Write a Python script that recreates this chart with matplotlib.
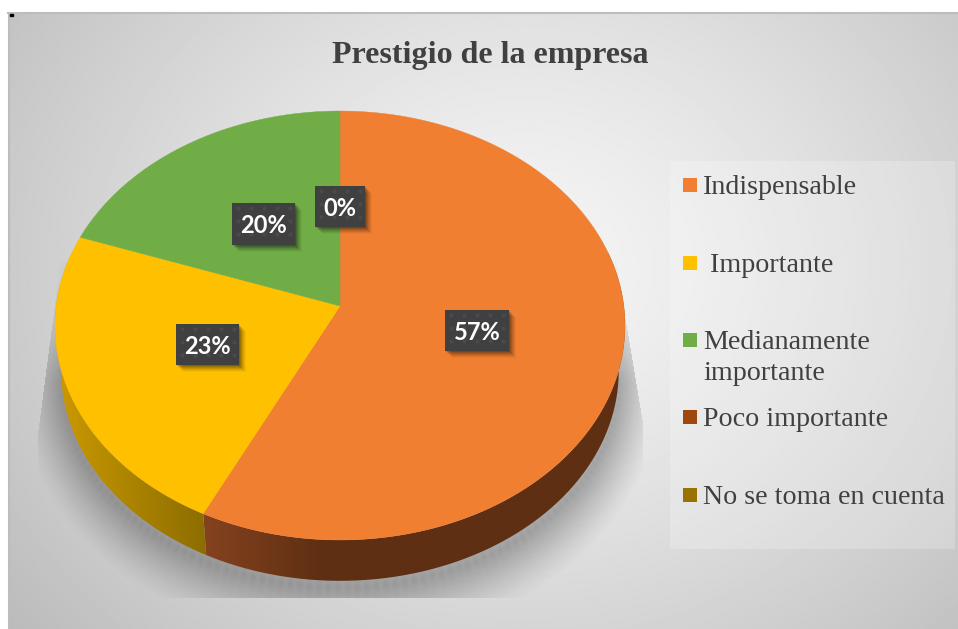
#!/usr/bin/env python3
"""Prestigio de la empresa - 3D looking pie, drawn in pixel coordinates."""

import numpy as np
import matplotlib
matplotlib.use("Agg")
import matplotlib.pyplot as plt
from matplotlib.colors import to_rgb
from matplotlib.patches import Rectangle, Polygon

W, H = 958, 629

title = "Prestigio de la empresa"
categories = ["Indispensable", " Importante", "Medianamente\nimportante",
              "Poco importante", "No se toma en cuenta"]
values = [57.3, 23.1, 19.6, 0, 0]
colors = ["#F07F31", "#FFC000", "#70AD47", "#9E480E", "#997300"]
wall_left = ["#85421F", "#CC9A00", "#5A8A38", "#7A380B", "#7A5C00"]
wall_right = ["#5E2F12", "#8C6D00", "#4A7030", "#5E2B08", "#5E4700"]

# label box left/top/width/height in pixels, one per shown label
label_values = [57.3, 23.1, 19.6, 0]
label_boxes = [(445, 310, 64, 41), (176, 324, 63, 41), (232, 203, 63, 42), (315, 186, 50, 41)]
legend_y = [185, 263, 340, 417, 495]

CX, CY = 340.0, 306.0
A, B, K = 283.8, 212.7, 0.0909
BASE_CY, BASE_S = 352.0, 0.978


def rim(theta, base=False):
    # theta runs clockwise from 12 o'clock, perspective tilt of the plate
    u, v = np.sin(theta), np.cos(theta)
    s = 1.0 / (1.0 + K * v)
    if base:
        return CX + BASE_S * A * u * s, BASE_CY - BASE_S * B * v * s
    return CX + A * u * s, CY - B * v * s


fig = plt.figure(figsize=(W / 100, H / 100), dpi=100, facecolor="white")
ax = fig.add_axes([0, 0, 1, 1])
ax.axis("off")

# background gradient
yy, xx = np.mgrid[0:H, 0:W]
d = np.sqrt(((xx - 520) / 640.0) ** 2 + ((yy - 260) / 560.0) ** 2)
bg = np.clip(245 - 55 * d ** 1.3, 185, 245) / 255.0
ax.imshow(bg, cmap="gray", vmin=0, vmax=1, extent=(8, 958, 629, 13), aspect="auto", zorder=0)
ax.plot([8, 958], [13, 13], color="#BDBDBD", lw=1.5, zorder=1)
ax.plot([9, 9], [13, 629], color="#BDBDBD", lw=1.5, zorder=1)
ax.add_patch(Rectangle((10, 14), 3, 2, color="black", zorder=1))

# soft shadow below the plate, cut off by tapered sides
tt = np.linspace(0, 2 * np.pi, 400)
sx, sy = rim(tt, base=True)
dist = np.full((H, W), 1e9)
for px, py in zip(sx[::2], sy[::2]):
    dist = np.minimum(dist, np.hypot(xx - px, (yy - py - 6) * 0.8))
shadow = np.zeros((H, W, 4))
fade = np.clip((yy - 262) / 120.0, 0.25, 1)
shadow[..., 3] = 0.3 * fade * np.clip(1 - dist / 46.0, 0, 1) ** 1.3
left_cut = np.maximum(38, 60 - 0.131 * (yy - 262))
right_cut = np.minimum(642, 627 + 0.167 * (yy - 330))
shadow[(xx < left_cut) | (xx > right_cut) | (yy > 597) | (yy < 262)] = 0
ax.imshow(shadow, extent=(0, W, H, 0), aspect="auto", zorder=2)

# side wall and top of the pie
edges = np.cumsum([0] + values) / sum(values) * 2 * np.pi
for i, val in enumerate(values):
    if val == 0:
        continue
    t0, t1 = edges[i], edges[i + 1]
    w0, w1 = max(t0, np.radians(75)), min(t1, np.radians(285))
    if w1 > w0:
        tw = np.linspace(w0, w1, 200)
        x1, y1 = rim(tw)
        x2, y2 = rim(tw, base=True)
        pts = np.r_[np.c_[x1, y1], np.c_[x2, y2][::-1]]
        poly = Polygon(pts, closed=True, fc="none", ec="none", zorder=3)
        ax.add_patch(poly)
        c0, c1 = np.array(to_rgb(wall_left[i])), np.array(to_rgb(wall_right[i]))
        xs = np.linspace(pts[:, 0].min(), pts[:, 0].max(), 256)
        span = 120.0 if i == 0 else xs.max() - xs.min()
        f = np.clip((xs - xs.min()) / span, 0, 1)
        rgb = c0 + (c1 - c0)[None, :] * f[:, None]
        im = ax.imshow(rgb[None, :, :], extent=(xs.min(), xs.max(), pts[:, 1].max(), pts[:, 1].min()),
                       aspect="auto", zorder=3)
        im.set_clip_path(poly)
    tf = np.linspace(t0, t1, 300)
    x, y = rim(tf)
    ax.add_patch(Polygon(np.r_[[[CX, CY]], np.c_[x, y]], closed=True, fc=colors[i], ec=colors[i],
                         lw=0.3, zorder=4))

# data labels
for val, (bx, by, bw, bh) in zip(label_values, label_boxes):
    for off, alpha in zip([8, 7, 6, 5, 4, 3, 2], [0.04, 0.05, 0.07, 0.08, 0.1, 0.12, 0.14]):
        ax.add_patch(Rectangle((bx + off - 1, by + off - 1), bw, bh, fc="black", ec="none", alpha=alpha, zorder=5))
    ax.add_patch(Rectangle((bx, by), bw, bh, fc="#404040", ec="none", zorder=6))
    gx, gy = np.meshgrid(np.arange(bx + 6, bx + bw, 13), np.arange(by + 5, by + bh, 13))
    ax.scatter(gx.ravel(), gy.ravel(), s=9, c="#4A4A4A", linewidths=0, zorder=6)
    ax.text(bx + bw / 2, by + bh / 2 + 1.5, f"{val:.0f}%", color="white", fontsize=17, fontweight="bold",
            family="Lato", ha="center", va="center", zorder=7)

# legend
ax.add_patch(Rectangle((670, 161), 285, 388, fc="white", ec="none", alpha=0.22, zorder=2))
for name, col, ly in zip(categories, colors, legend_y):
    ax.add_patch(Rectangle((683, ly - 7), 14, 14, fc=col, ec="none", zorder=6))
    ax.text(703, ly - 10, name, color="#404040", fontsize=20.2, family="Liberation Serif",
            ha="left", va="top", linespacing=1.33, zorder=6)

ax.text(490, 56, title, color="#404040", fontsize=23, fontweight="bold", family="Liberation Serif",
        ha="center", va="center", zorder=6)

ax.set_xlim(0, W)
ax.set_ylim(H, 0)
fig.savefig("out.png", dpi=100)
